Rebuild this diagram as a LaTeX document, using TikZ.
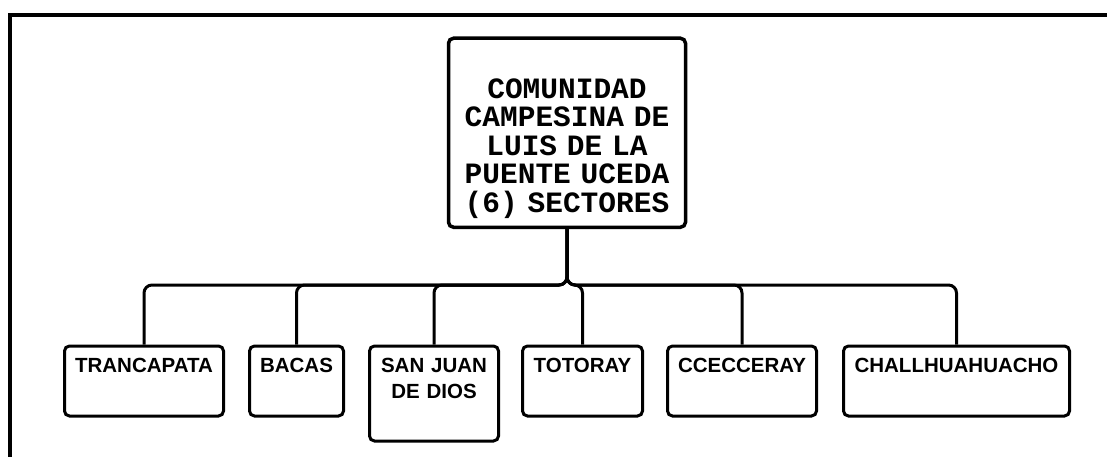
\documentclass[tikz,border=0pt]{standalone}
\usepackage{fontspec}
\setsansfont{Liberation Sans}
\setmonofont{Liberation Mono}
\usepackage{tikz}

\begin{document}
\begin{tikzpicture}[x=1pt, y=-1pt,
    box/.style={draw, line width=3pt, rounded corners=5pt, inner sep=0pt, align=center},
    root/.style={box, anchor=north, line width=3.5pt, text width=237pt,
        text height=60pt, text depth=129pt,
        font=\ttfamily\bfseries\fontsize{29.5}{28.5}\selectfont},
    sector/.style={box, anchor=north, text height=26.5pt, text depth=43.5pt,
        font=\sffamily\bfseries\fontsize{20.5}{26}\selectfont},
    link/.style={line width=3pt, rounded corners=8pt}]
    \useasboundingbox (0,0) rectangle (1107,457);
    % frame
    \draw[line width=4pt] (10.3,457) -- (10.3,15.3) -- (1107,15.3);
    \node[root] (comunidad) at (567,36.5)
        {COMUNIDAD\\CAMPESINA DE\\LUIS DE LA\\PUENTE UCEDA\\(6) SECTORES};
    \coordinate (bus) at (567,285);
    % sectores
    \node[sector, text width=159pt] (trancapata) at (144,344.5) {TRANCAPATA};
    \node[sector, text width=94pt] (bacas) at (296.5,344.5) {BACAS};
    \node[sector, text width=129pt, text depth=68.5pt] (sanjuan) at (434,344.5)
        {SAN JUAN\\DE DIOS};
    \node[sector, text width=120pt] (totoray) at (582.5,344.5) {TOTORAY};
    \node[sector, text width=149pt] (ccecceray) at (742,344.5) {CCECCERAY};
    \node[sector, text width=226pt] (challhuahuacho) at (956.5,344.5) {CHALLHUAHUACHO};
    \foreach \s in {trancapata,bacas,sanjuan,totoray,ccecceray,challhuahuacho}
        \draw[link] (comunidad.south) -- (comunidad.south |- bus) -| (\s.north);
\end{tikzpicture}
\end{document}
